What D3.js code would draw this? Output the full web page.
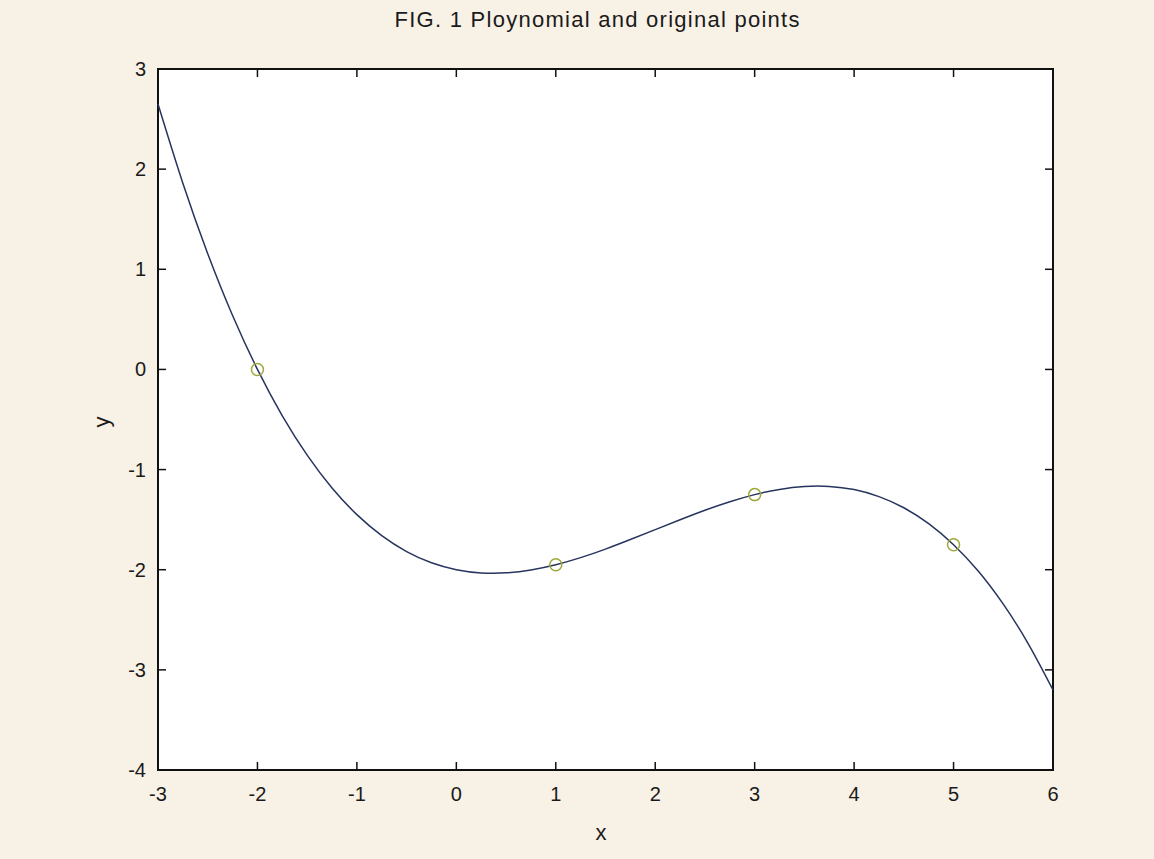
<!DOCTYPE html>
<html><head><meta charset="utf-8">
<script src="https://cdn.jsdelivr.net/npm/d3@7"></script>
<style>html,body{margin:0;padding:0;background:#f8f1e5;}svg{display:block;}</style>
</head><body>
<script>
const title = "FIG. 1 Ploynomial and original points";
const xTicks = [-3,-2,-1,0,1,2,3,4,5,6];
const yTicks = [-4,-3,-2,-1,0,1,2,3];
const curveX = [-3,-2.75,-2.5,-2.25,-2,-1.75,-1.5,-1.25,-1,-0.75,-0.5,-0.25,0,0.25,0.5,0.75,1,1.25,1.5,1.75,2,2.25,2.5,2.75,3,3.25,3.5,3.75,4,4.25,4.5,4.75,5,5.25,5.5,5.75,6];
const curveY = [2.65,1.859,1.156,0.538,0,-0.463,-0.856,-1.184,-1.45,-1.660,-1.819,-1.931,-2,-2.032,-2.031,-2.002,-1.95,-1.879,-1.794,-1.699,-1.6,-1.501,-1.406,-1.321,-1.25,-1.198,-1.169,-1.168,-1.2,-1.270,-1.381,-1.540,-1.75,-2.016,-2.344,-2.737,-3.2];
const pointX = [-2,1,3,5];
const pointY = [0,-1.95,-1.25,-1.75];

const W=1154,H=859;
const L=158,R=1053,T=69,B=770;
const svg=d3.select("body").append("svg").attr("width",W).attr("height",H);
svg.append("rect").attr("width",W).attr("height",H).attr("fill","#f8f1e5");
const x=d3.scaleLinear().domain([-3,6]).range([L,R]);
const y=d3.scaleLinear().domain([-4,3]).range([B,T]);
svg.append("rect").attr("x",L).attr("y",T).attr("width",R-L).attr("height",B-T).attr("fill","#ffffff");

const font="'Liberation Sans', Arial, sans-serif";
const tl=8;
const g=svg.append("g");
xTicks.forEach(v=>{
  g.append("line").attr("x1",x(v)).attr("x2",x(v)).attr("y1",B).attr("y2",B-tl).attr("stroke","#111").attr("stroke-width",1.5);
  g.append("line").attr("x1",x(v)).attr("x2",x(v)).attr("y1",T).attr("y2",T+tl).attr("stroke","#111").attr("stroke-width",1.5);
  g.append("text").attr("x",x(v)).attr("y",B+31).attr("text-anchor","middle").attr("font-family",font).attr("font-size",20).attr("fill","#1a1a1a").text(v);
});
yTicks.forEach(v=>{
  g.append("line").attr("x1",L).attr("x2",L+tl).attr("y1",y(v)).attr("y2",y(v)).attr("stroke","#111").attr("stroke-width",1.5);
  g.append("line").attr("x1",R).attr("x2",R-tl).attr("y1",y(v)).attr("y2",y(v)).attr("stroke","#111").attr("stroke-width",1.5);
  g.append("text").attr("x",L-12).attr("y",y(v)+7).attr("text-anchor","end").attr("font-family",font).attr("font-size",20).attr("fill","#1a1a1a").text(v);
});
svg.append("rect").attr("x",L).attr("y",T).attr("width",R-L).attr("height",B-T).attr("fill","none").attr("stroke","#111").attr("stroke-width",2);

const line=d3.line().x(d=>x(d[0])).y(d=>y(d[1])).curve(d3.curveNatural);
svg.append("path").datum(curveX.map((v,i)=>[v,curveY[i]])).attr("d",line).attr("fill","none").attr("stroke","#27355e").attr("stroke-width",1.5);

svg.selectAll("circle.pt").data(pointX.map((v,i)=>[v,pointY[i]])).enter().append("circle")
  .attr("cx",d=>x(d[0])).attr("cy",d=>y(d[1])).attr("r",6).attr("fill","none").attr("stroke","#9fa83c").attr("stroke-width",1.5);

svg.append("text").attr("x",597).attr("y",27).attr("text-anchor","middle").attr("font-family",font).attr("font-size",22)
  .attr("textLength",405).attr("lengthAdjust","spacing").attr("fill","#1a1a1a").text(title);
svg.append("text").attr("x",601).attr("y",840).attr("text-anchor","middle").attr("font-family",font).attr("font-size",22).attr("fill","#1a1a1a").text("x");
svg.append("text").attr("transform","translate(109,422) rotate(-90)").attr("text-anchor","middle").attr("font-family",font).attr("font-size",22).attr("fill","#1a1a1a").text("y");
</script>
</body></html>
